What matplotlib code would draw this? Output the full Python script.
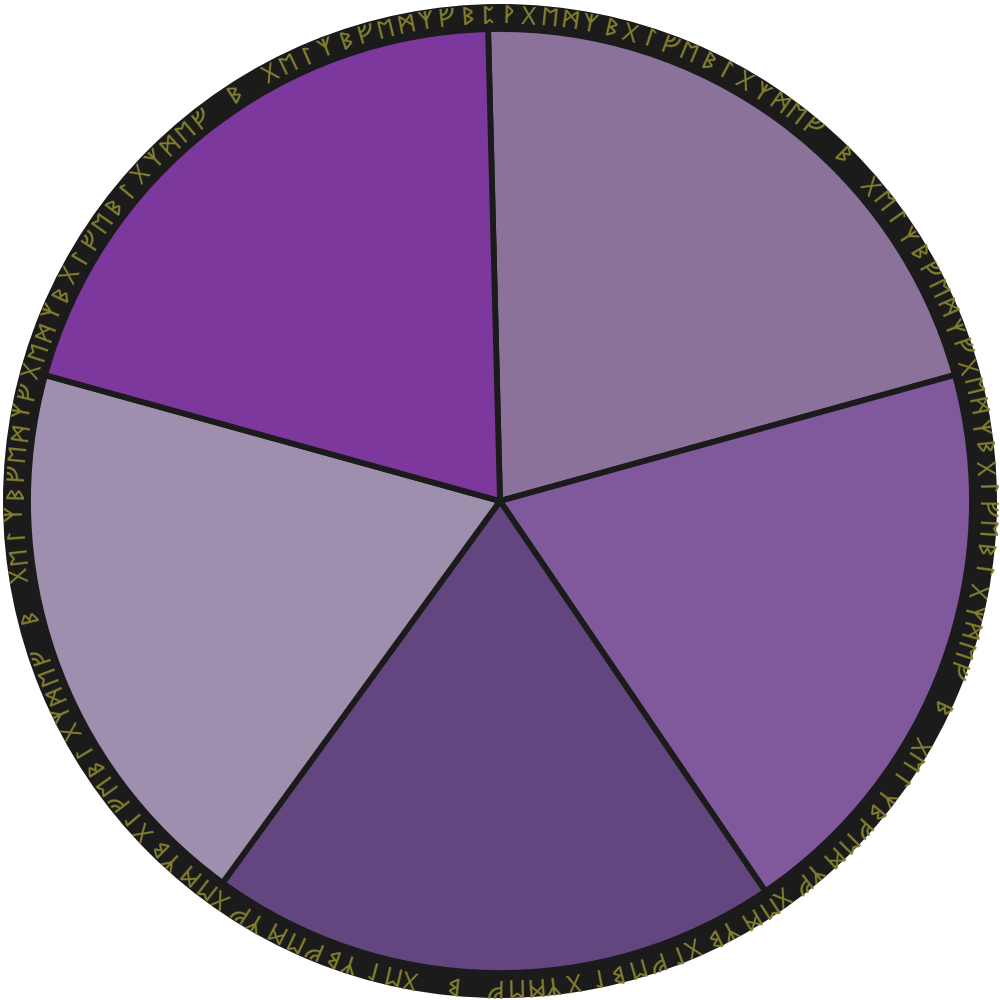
import numpy as np
import matplotlib.pyplot as plt
from matplotlib.patches import Wedge

#%% datos
porciones = [21.1, 19.8, 19.5, 19.3, 20.3]
colores = ['#8a729b', '#80599d', '#634680', '#9f8fae', '#7d389d']
inicio = 91.45

# runas del borde (en sentido horario desde arriba)
patron = "ᚷᛖᛗᛉᛒᚷᛚᚠᛖᛒᛚᚷᛉᛗᛖᚠ ᛒ ᚷᛖᛚᛉᛒᚠᛖᛗᛉᚠ"
runas = "ᛈᚹ" + patron * 5 + "ᛒ"

#%% grafico
fig = plt.figure(figsize=(10, 10), dpi=100)
ax = fig.add_axes([0, 0, 1, 1])

cx, cy = 500, 499
r_pie = 472
r_ext = 497

ax.add_patch(Wedge((cx, cy), r_ext, 0, 360, width=r_ext - r_pie + 3,
                   facecolor='#1b1b1b', edgecolor='none'))

ax.pie(porciones, colors=colores, startangle=inicio, counterclock=False,
       center=(cx, cy), radius=r_pie, frame=True,
       wedgeprops=dict(edgecolor='#1b1b1b', linewidth=4.2))
ax.set_xlim(0, 1000)
ax.set_ylim(0, 1000)
ax.set_aspect('equal')
ax.axis('off')

r_txt = 484
n = len(runas)
paso = 360 / n
for i, ch in enumerate(runas):
    ang = 90 + 0.6 * paso - i * paso
    t = np.radians(ang)
    ax.text(cx + r_txt * np.cos(t), cy + r_txt * np.sin(t), ch,
            rotation=ang - 90, rotation_mode='anchor', ha='center', va='center',
            fontsize=18, color='#848030', family=['Noto Sans Runic', 'DejaVu Sans'])

fig.savefig('out.png', dpi=100, facecolor='white')
